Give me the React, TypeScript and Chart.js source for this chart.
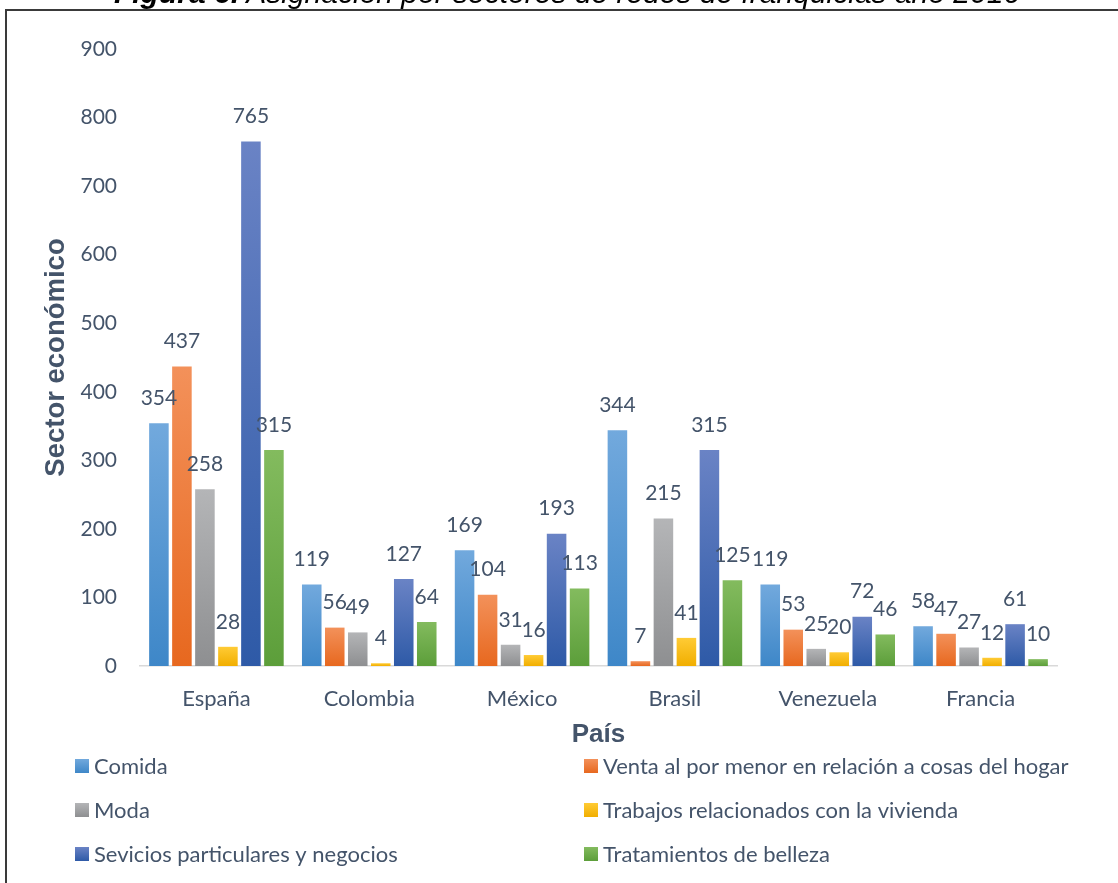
import React, { useEffect, useRef } from "react";
import { Chart, registerables } from "chart.js";

Chart.register(...registerables);

const countries = ["España", "Colombia", "México", "Brasil", "Venezuela", "Francia"];
const seriesNames = [
  "Comida",
  "Venta al por menor en relación a cosas del hogar",
  "Moda",
  "Trabajos relacionados con la vivienda",
  "Sevicios particulares y negocios",
  "Tratamientos de belleza",
];
const comida = [354, 119, 169, 344, 119, 58];
const venta = [437, 56, 104, 7, 53, 47];
const moda = [258, 49, 31, 215, 25, 27];
const trabajos = [28, 4, 16, 41, 20, 12];
const servicios = [765, 127, 193, 315, 72, 61];
const belleza = [315, 64, 113, 125, 46, 10];
const seriesValues = [comida, venta, moda, trabajos, servicios, belleza];
const yTicks = [0, 100, 200, 300, 400, 500, 600, 700, 800, 900];

const topColors = ["#72a9dd", "#f3915a", "#b4b5b7", "#ffcb35", "#6a83c5", "#83bb5e"];
const bottomColors = ["#3e87c8", "#e7681f", "#8e8f91", "#f1ae00", "#2e5aa7", "#5c9e3a"];

const TEXT = "#44546a";
const LABEL_FONT = "Lato";

const valueLabels = {
  id: "valueLabels",
  afterDatasetsDraw(chart: any) {
    const ctx = chart.ctx;
    ctx.save();
    ctx.font = `21px ${LABEL_FONT}`;
    ctx.fillStyle = TEXT;
    ctx.textAlign = "center";
    ctx.textBaseline = "middle";
    chart.data.datasets.forEach((ds: any, di: number) => {
      const meta = chart.getDatasetMeta(di);
      meta.data.forEach((bar: any, i: number) => {
        ctx.fillText(String(ds.data[i]), bar.x, bar.y - 25);
      });
    });
    ctx.restore();
  },
};

const twoColLegend = {
  id: "twoColLegend",
  afterDraw(chart: any) {
    const ctx = chart.ctx;
    ctx.save();
    ctx.font = `22px ${LABEL_FONT}`;
    ctx.textBaseline = "middle";
    ctx.textAlign = "left";
    chart.data.datasets.forEach((ds: any, i: number) => {
      const col = i % 2;
      const row = Math.floor(i / 2);
      const mx = col === 0 ? 75 : 584;
      const cy = 766 + row * 44;
      const g = ctx.createLinearGradient(0, cy - 7, 0, cy + 7);
      g.addColorStop(0, topColors[i]);
      g.addColorStop(1, bottomColors[i]);
      ctx.fillStyle = g;
      ctx.fillRect(mx, cy - 7, 14, 14);
      ctx.fillStyle = TEXT;
      ctx.fillText(ds.label, mx + 19, cy + 1);
    });
    ctx.restore();
  },
};

function gradientFor(i: number) {
  return (c: any) => {
    const chart = c.chart;
    const y = chart.scales && chart.scales.y;
    if (c.type !== "data" || !y) return topColors[i];
    const y0 = y.getPixelForValue(0);
    const y1 = y.getPixelForValue(c.raw);
    if (!isFinite(y0) || !isFinite(y1) || y0 === y1) return topColors[i];
    const g = chart.ctx.createLinearGradient(0, y1, 0, y0);
    g.addColorStop(0, topColors[i]);
    g.addColorStop(1, bottomColors[i]);
    return g;
  };
}

export default function App() {
  const ref = useRef<HTMLCanvasElement | null>(null);
  useEffect(() => {
    if (!ref.current) return;
    const chart = new Chart(ref.current, {
      type: "bar",
      data: {
        labels: countries,
        datasets: seriesNames.map((name, i) => ({
          label: name,
          data: seriesValues[i],
          backgroundColor: gradientFor(i),
          borderWidth: 0,
          categoryPercentage: 0.903,
          barPercentage: 0.85,
        })),
      },
      options: {
        animation: false,
        responsive: false,
        devicePixelRatio: 1,
        layout: { padding: { top: 49, left: 0, right: 61, bottom: 130 } },
        plugins: {
          legend: { display: false },
          tooltip: { enabled: false },
          title: { display: false },
        },
        scales: {
          x: {
            grid: { display: false, drawTicks: false },
            border: { display: true, color: "#d9d9d9", width: 1.5 },
            ticks: {
              color: TEXT,
              font: { family: LABEL_FONT, size: 22, lineHeight: 1.2 },
              padding: 19.5,
              maxRotation: 0,
            },
            title: {
              display: true,
              text: "País",
              color: TEXT,
              font: { family: "Liberation Sans", size: 26, weight: "bold", lineHeight: 1.2 },
              padding: { top: 0, bottom: 2.4 },
            },
            afterFit(scale: any) {
              scale.height = 87;
            },
          },
          y: {
            min: 0,
            max: 900,
            afterBuildTicks(scale: any) {
              scale.ticks = yTicks.map((v) => ({ value: v }));
            },
            grid: { display: false, drawTicks: false },
            border: { display: false },
            ticks: {
              color: TEXT,
              font: { family: LABEL_FONT, size: 21 },
              padding: 23,
            },
            title: {
              display: true,
              text: "Sector económico",
              color: TEXT,
              font: { family: "Liberation Sans", size: 27.5, weight: "bold", lineHeight: 1.2 },
              padding: { top: 39.5, bottom: 0 },
            },
            afterFit(scale: any) {
              scale.width = 140;
            },
          },
        },
      },
      plugins: [valueLabels, twoColLegend],
    });
    return () => chart.destroy();
  }, []);

  return (
    <div style={{ position: "fixed", inset: 0, overflow: "hidden", background: "#fff" }}>
      <canvas
        ref={ref}
        width={1118}
        height={883}
        style={{ position: "absolute", left: 0, top: 0, width: 1118, height: 883 }}
      />
      <div
        style={{
          position: "absolute",
          left: 5,
          top: 9,
          width: 1300,
          height: 1000,
          border: "2px solid #3a3a3a",
          pointerEvents: "none",
        }}
      />
      <div
        style={{
          position: "absolute",
          left: 0,
          width: 1134,
          top: -22,
          textAlign: "center",
          whiteSpace: "nowrap",
          fontFamily: "Liberation Sans, Arial, sans-serif",
          fontStyle: "italic",
          fontSize: 30,
          lineHeight: "30px",
          color: "#000",
        }}
      >
        <b>Figura 6.</b> Asignación por sectores de redes de franquicias año 2016
      </div>
    </div>
  );
}
